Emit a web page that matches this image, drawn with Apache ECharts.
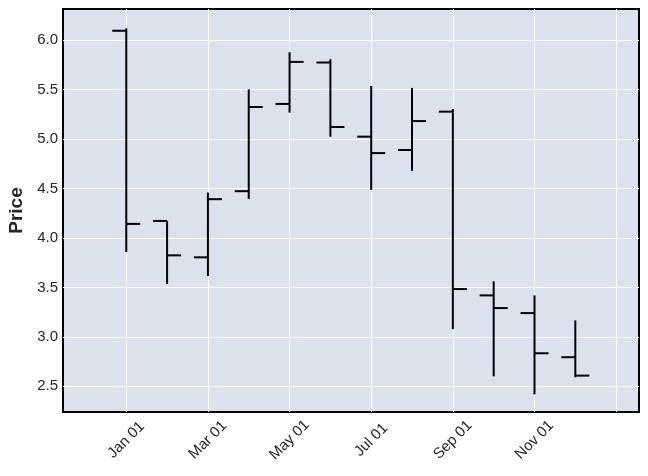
<!DOCTYPE html>
<html>
<head>
<meta charset="utf-8">
<script src="https://cdn.jsdelivr.net/npm/echarts@6/dist/echarts.min.js"></script>
<style>html,body{margin:0;padding:0;background:#fff}#c{width:648px;height:476px}</style>
</head>
<body>
<div id="c"></div>
<script>
const months = ['Jan 01','Feb 01','Mar 01','Apr 01','May 01','Jun 01','Jul 01','Aug 01','Sep 01','Oct 01','Nov 01','Dec 01'];
const opens  = [6.095, 4.172, 3.804, 4.473, 5.355, 5.774, 5.024, 4.889, 5.277, 3.419, 3.240, 2.794];
const highs  = [6.120, 4.172, 4.459, 5.503, 5.878, 5.807, 5.537, 5.517, 5.304, 3.561, 3.419, 3.166];
const lows   = [3.858, 3.534, 3.615, 4.395, 5.267, 5.024, 4.486, 4.679, 3.078, 2.601, 2.419, 2.591];
const closes = [4.142, 3.824, 4.392, 5.324, 5.780, 5.122, 4.858, 5.182, 3.483, 3.291, 2.834, 2.608];
const xTickIdx = [0, 2, 4, 6, 8, 10, 12];
const yTicks = [2.5, 3.0, 3.5, 4.0, 4.5, 5.0, 5.5, 6.0];

const data = months.map((m, i) => [i, opens[i], highs[i], lows[i], closes[i]]);
const chart = echarts.init(document.getElementById('c'));
const font = '"Liberation Sans", Arial, sans-serif';
chart.setOption({
  animation: false,
  backgroundColor: '#ffffff',
  grid: {left: 63, right: 9, top: 9, bottom: 64, outerBoundsMode: 'none', containLabel: false,
    show: true, backgroundColor: '#dce1ee', borderColor: '#000', borderWidth: 2},
  xAxis: {
    type: 'value', min: -1.55, max: 12.56,
    axisLine: {show: false},
    axisTick: {show: false, customValues: xTickIdx},
    axisLabel: {customValues: xTickIdx, rotate: 45, align: 'center', verticalAlign: 'middle',
      color: '#262626', fontSize: 15, fontFamily: font, margin: 28,
      formatter: v => months[Math.round(v)] || ''},
    splitLine: {show: true, lineStyle: {color: '#ffffff', width: 1}}
  },
  yAxis: {
    type: 'value', min: 2.24, max: 6.315,
    name: 'Price', nameLocation: 'middle', nameGap: 35,
    nameTextStyle: {fontSize: 19, fontWeight: 'bold', color: '#262626', fontFamily: font},
    axisLine: {show: false},
    axisTick: {show: false, customValues: yTicks},
    axisLabel: {customValues: yTicks, color: '#262626', fontSize: 15, fontFamily: font, margin: 5,
      formatter: v => v.toFixed(1)},
    splitLine: {show: true, lineStyle: {color: '#ffffff', width: 1}}
  },
  series: [{
    type: 'custom',
    data: data,
    encode: {x: 0, y: [1, 2, 3, 4]},
    renderItem: function (params, api) {
      const x = api.value(0);
      const o = api.coord([x, api.value(1)]);
      const h = api.coord([x, api.value(2)]);
      const l = api.coord([x, api.value(3)]);
      const c = api.coord([x, api.value(4)]);
      const w = 14;
      const style = {stroke: '#000', lineWidth: 2};
      return {
        type: 'group',
        children: [
          {type: 'line', shape: {x1: h[0], y1: h[1], x2: l[0], y2: l[1]}, style: style},
          {type: 'line', shape: {x1: o[0] - w, y1: o[1], x2: o[0], y2: o[1]}, style: style},
          {type: 'line', shape: {x1: c[0], y1: c[1], x2: c[0] + w, y2: c[1]}, style: style}
        ]
      };
    }
  }]
});
</script>
</body>
</html>
